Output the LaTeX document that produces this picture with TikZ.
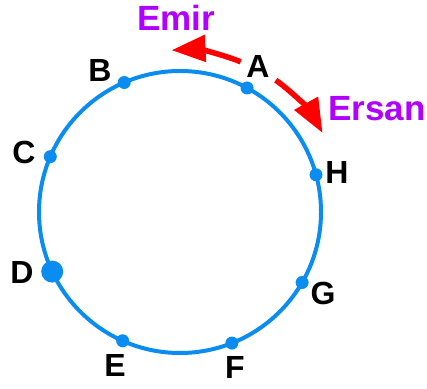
\documentclass[tikz,border=0pt]{standalone}
\usepackage{fontspec}
\setmainfont{Liberation Sans}
\definecolor{ringblue}{HTML}{0A8CF0}
\definecolor{runred}{HTML}{FF0000}
\definecolor{namepurple}{HTML}{B000FF}
\usetikzlibrary{arrows.meta, calc}
\newcommand{\seat}[3]
{
	\fill[ringblue] ($(O)+(#1:141)$) coordinate (#2) circle (#3)
}

\begin{document}
\begin{tikzpicture}[x=1pt, y=1pt,
every node/.append style={font=\fontsize{32}{34}\selectfont\bfseries, inner sep=0pt},
runner/.style={draw=runred, line width=5.5pt, -{Triangle[length=34pt, width=26pt]}}]
\useasboundingbox (0,0) rectangle (427,388);

\coordinate (O) at (180,176);
\draw[ringblue, line width=4pt] (O) circle (141);

\seat{61.6}{A}{6.5};
\seat{113.3}{B}{6.5};
\seat{156.9}{C}{6.5};
\seat{205}{D}{11};
\seat{246}{E}{6.5};
\seat{291.6}{F}{6.5};
\seat{330}{G}{6.5};
\seat{15.3}{H}{6.5};

\node at (258,322) (lA){A};
\node at (100,318) (lB){B};
\node at (24,236)  (lC){C};
\node at (22,116)  (lD){D};
\node at (115,23)  (lE){E};
\node at (235,21)  (lF){F};
\node at (323,95)  (lG){G};
\node at (337,216) (lH){H};

\node[color=namepurple, font=\fontsize{35}{36}\selectfont\bfseries] at (176,370) (Emir){Emir};
\node[color=namepurple, font=\fontsize{35}{36}\selectfont\bfseries] at (377,279) (Ersan){Ersan};

\coordinate (emirstart) at ($(O)+(68:162)$);
\coordinate (ersanstart) at ($(O)+(54:163)$);
\draw[runner] (emirstart) arc[start angle=68, end angle=93, radius=162];
\draw[runner] (ersanstart) arc[start angle=54, end angle=29, radius=163];
\end{tikzpicture}
\end{document}
